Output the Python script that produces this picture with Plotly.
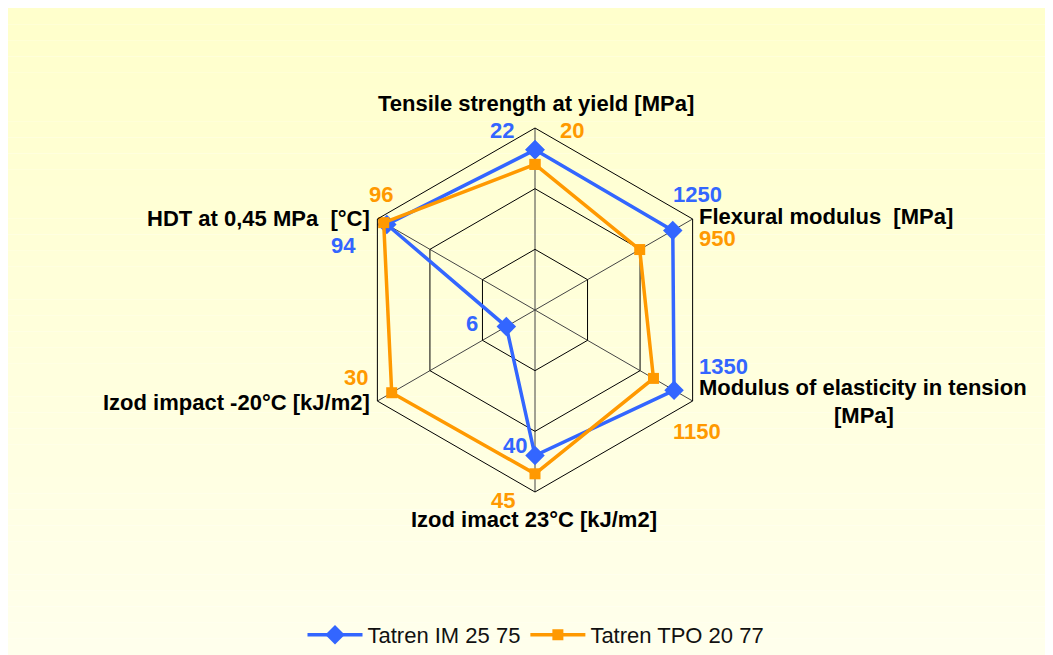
import plotly.graph_objects as go

# page body adds an 8px offset; figure is sized to fill the rest of the window
OFF = 8
W, H = 1053 - OFF, 655 - OFF

categories = [
    "Tensile strength at yield [MPa]",
    "Flexural modulus  [MPa]",
    "Modulus of elasticity in tension [MPa]",
    "Izod imact 23°C [kJ/m2]",
    "Izod impact -20°C [kJ/m2]",
    "HDT at 0,45 MPa  [°C]",
]
axis_max = [25, 1430, 1530, 50, 33, 100]
im_values = [22, 1250, 1350, 40, 6, 94]
tpo_values = [20, 950, 1150, 45, 30, 96]
series_names = ["Tatren IM 25 75", "Tatren TPO 20 77"]

BLUE = "#3366FF"
ORANGE = "#FF9900"


def norm(vals):
    r = [v / m for v, m in zip(vals, axis_max)]
    return r + r[:1]


theta = categories + categories[:1]

fig = go.Figure()
fig.add_trace(go.Scatterpolar(
    r=norm(im_values), theta=theta, mode="lines+markers", name=series_names[0],
    line=dict(color=BLUE, width=3.5),
    marker=dict(symbol="diamond", size=15, color=BLUE),
))
fig.add_trace(go.Scatterpolar(
    r=norm(tpo_values), theta=theta, mode="lines+markers", name=series_names[1],
    line=dict(color=ORANGE, width=3.5),
    marker=dict(symbol="square", size=11, color=ORANGE),
))


def px(x):
    return (x - OFF) / W


def py(y):
    return 1 - (y - OFF) / H


# gradient background
shapes = []
n = 40
for i in range(n):
    t = i / (n - 1)
    b = int(204 + (236 - 204) * t)
    ya = i / n
    yb = (i + 1) / n
    shapes.append(dict(type="rect", xref="paper", yref="paper",
                       x0=0, x1=1, y0=1 - yb, y1=1 - ya,
                       line=dict(width=0), fillcolor=f"rgb(255,255,{b})",
                       layer="below"))

cx, cy, R = 535, 310, 182

ann = []


def add(text, x, y, xa="center", color="#000000", size=22):
    ann.append(dict(text=f"<b>{text}</b>", x=px(x), y=py(y), xref="paper", yref="paper",
                    xanchor=xa, yanchor="middle", showarrow=False, borderpad=0,
                    font=dict(family="Liberation Sans", size=size, color=color)))


# category labels
add(categories[0], 536, 103)
add(categories[1], 698, 217, xa="left")
add("Modulus of elasticity in tension", 698, 387, xa="left")
add("[MPa]", 864, 416)
add(categories[3], 534, 519)
add(categories[4], 371, 402, xa="right")
add(categories[5], 371, 218, xa="right")

# value labels
add(str(im_values[0]), 502, 130, color=BLUE)
add(str(tpo_values[0]), 572, 130, color=ORANGE)
add(str(im_values[1]), 672, 195, xa="left", color=BLUE)
add(str(tpo_values[1]), 698, 238, xa="left", color=ORANGE)
add(str(im_values[2]), 698, 366, xa="left", color=BLUE)
add(str(tpo_values[2]), 697, 431, color=ORANGE)
add(str(im_values[3]), 515, 445, color=BLUE)
add(str(tpo_values[3]), 503, 500, color=ORANGE)
add(str(tpo_values[4]), 369, 377, xa="right", color=ORANGE)
add(str(im_values[4]), 472, 323, color=BLUE)
add(str(tpo_values[5]), 381, 195, color=ORANGE)
add(str(im_values[5]), 343, 246, color=BLUE)

fig.update_layout(
    width=W, height=H,
    margin=dict(l=0, r=0, t=0, b=0, autoexpand=False),
    paper_bgcolor="white",
    shapes=shapes,
    annotations=ann,
    showlegend=True,
    legend=dict(orientation="h", x=px(536), xanchor="center", y=py(635), yanchor="middle",
                font=dict(family="Liberation Sans", size=22, color="#111111"),
                bgcolor="rgba(0,0,0,0)", itemwidth=55),
    polar=dict(
        domain=dict(x=[px(cx - R), px(cx + R)], y=[py(cy + R), py(cy - R)]),
        bgcolor="rgba(0,0,0,0)",
        gridshape="linear",
        angularaxis=dict(rotation=90, direction="clockwise", showticklabels=False,
                         ticks="", gridcolor="#444444", gridwidth=1,
                         linecolor="#000000", linewidth=1, showline=True),
        radialaxis=dict(range=[0, 1], tickvals=[1 / 3, 2 / 3, 1], showticklabels=False,
                        ticks="", showline=False, gridcolor="#000000", gridwidth=1),
    ),
)

fig.write_html("out.html")
